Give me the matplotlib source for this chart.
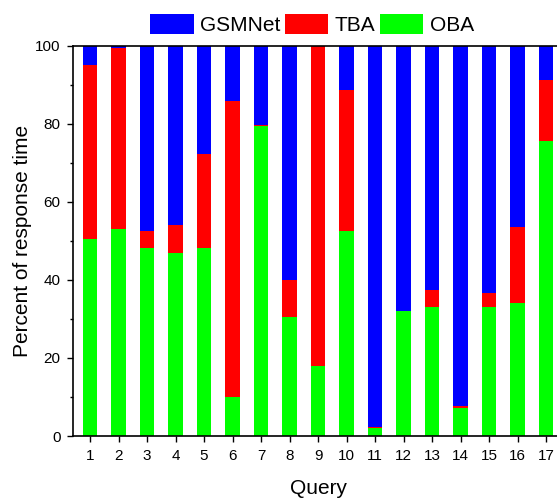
import matplotlib
matplotlib.use('Agg')
from matplotlib import pyplot as plt
import numpy as np

plt.rcParams['font.family'] = ['Liberation Sans', 'DejaVu Sans']

queries = list(range(1, 18))
# percentages of response time per query
oba = [50.4, 53.0, 48.2, 46.9, 48.2, 9.9, 79.4, 30.6, 18.0, 52.6, 2.1, 32.0, 33.1, 7.1, 33.1, 34.2, 75.7]
tba = [44.6, 46.3, 4.3, 7.2, 24.1, 76.0, 0.4, 9.4, 82.0, 36.0, 0.3, 0.0, 4.3, 0.6, 3.6, 19.3, 15.5]
gsm = [100 - a - b for a, b in zip(oba, tba)]

fig = plt.figure(figsize=(5.57, 5.01), dpi=100)
ax = fig.add_axes([0.131, 0.1297, 0.88, 0.779])

w = 0.5
ax.bar(queries, oba, width=w, color='#00ff00', label='OBA')
ax.bar(queries, tba, width=w, bottom=oba, color='#ff0000', label='TBA')
ax.bar(queries, gsm, width=w, bottom=np.add(oba, tba), color='#0000ff', label='GSMNet')

ax.set_xlim(0.4, 17.6)
ax.set_ylim(0, 100)
ax.set_xticks(queries)
ax.set_yticks(range(0, 101, 20))
ax.set_yticks(range(10, 100, 20), minor=True)
ax.tick_params(direction='out', labelsize=11, length=4, width=1, pad=5)
ax.tick_params(which='minor', length=2.5, width=1)
ax.spines['right'].set_visible(False)
for s in ax.spines.values():
    s.set_linewidth(1.2)
ax.set_xlabel('Query', fontsize=15, labelpad=12)
ax.set_ylabel('Percent of response time', fontsize=15, labelpad=2)

h, l = ax.get_legend_handles_labels()
fig.legend(h[::-1], l[::-1], loc='upper center', bbox_to_anchor=(0.56, 1.01), ncol=3,
           frameon=False, fontsize=15, handlelength=2.1, handleheight=1.15,
           handletextpad=0.3, columnspacing=0.2)

plt.savefig('out.png')
